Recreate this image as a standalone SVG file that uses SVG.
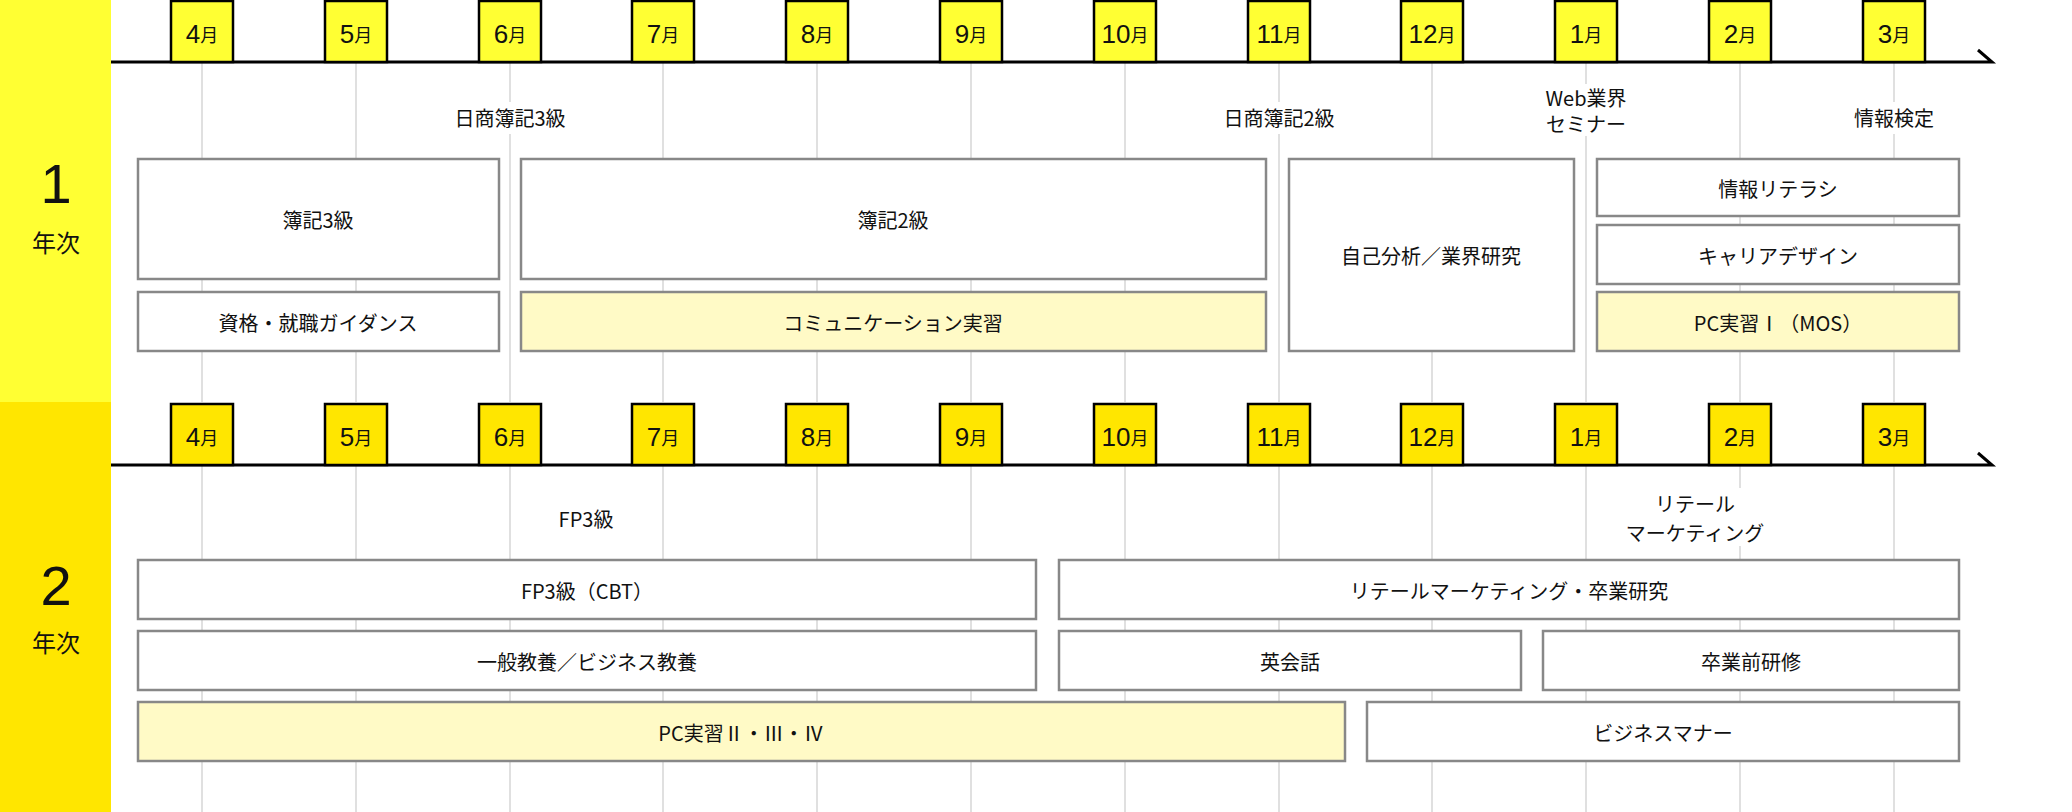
<svg xmlns="http://www.w3.org/2000/svg" width="2072" height="812" viewBox="0 0 2072 812">
<style>
text{font-family:"Noto Sans CJK JP","Liberation Sans",sans-serif;fill:#111;text-anchor:middle;dominant-baseline:central}
.box{fill:#fff;stroke:#888;stroke-width:2.5}
.hl{fill:#fffac6;stroke:#888;stroke-width:2.5}
.t{font-size:20px}
.mb1{fill:#ffff33;stroke:#000;stroke-width:2.5}
.mb2{fill:#ffe600;stroke:#000;stroke-width:2.5}
.m{font-size:26px;font-family:"Liberation Sans","Noto Sans CJK JP",sans-serif}
.m tspan{font-size:18px;font-family:"Noto Sans CJK JP",sans-serif}
.grid line{stroke:#ccc;stroke-width:1.2}
.axis{stroke:#000;stroke-width:3;fill:none}
.bg{fill:#fff}
.big{font-size:56px;font-family:"Liberation Sans",sans-serif}
</style>
<rect x="0" y="0" width="111" height="402" fill="#ffff33"/>
<rect x="0" y="402" width="111" height="410" fill="#ffe600"/>
<g id="year1-label"><text class="big" x="56" y="183">1</text><text x="56" y="241" font-size="24">年次</text></g>
<g id="year2-label"><text class="big" x="56" y="585" font-size="62">2</text><text x="56" y="641" font-size="24">年次</text></g>
<g class="grid">
<line x1="202" y1="62" x2="202" y2="402"/><line x1="356" y1="62" x2="356" y2="402"/><line x1="510" y1="62" x2="510" y2="402"/><line x1="663" y1="62" x2="663" y2="402"/><line x1="817" y1="62" x2="817" y2="402"/><line x1="971" y1="62" x2="971" y2="402"/><line x1="1125" y1="62" x2="1125" y2="402"/><line x1="1279" y1="62" x2="1279" y2="402"/><line x1="1432" y1="62" x2="1432" y2="402"/><line x1="1586" y1="62" x2="1586" y2="402"/><line x1="1740" y1="62" x2="1740" y2="402"/><line x1="1894" y1="62" x2="1894" y2="402"/>
<line x1="202" y1="465" x2="202" y2="812"/><line x1="356" y1="465" x2="356" y2="812"/><line x1="510" y1="465" x2="510" y2="812"/><line x1="663" y1="465" x2="663" y2="812"/><line x1="817" y1="465" x2="817" y2="812"/><line x1="971" y1="465" x2="971" y2="812"/><line x1="1125" y1="465" x2="1125" y2="812"/><line x1="1279" y1="465" x2="1279" y2="812"/><line x1="1432" y1="465" x2="1432" y2="812"/><line x1="1586" y1="465" x2="1586" y2="812"/><line x1="1740" y1="465" x2="1740" y2="812"/><line x1="1894" y1="465" x2="1894" y2="812"/>
</g>
<g id="axes">
<path class="axis" d="M111 62H1992L1978 50"/>
<path class="axis" d="M111 465H1992L1978 453"/>
</g>
<g id="months1">
<rect class="mb1" x="171" y="1" width="62" height="61"/><text class="m" x="202" y="34">4<tspan>月</tspan></text>
<rect class="mb1" x="325" y="1" width="62" height="61"/><text class="m" x="356" y="34">5<tspan>月</tspan></text>
<rect class="mb1" x="479" y="1" width="62" height="61"/><text class="m" x="510" y="34">6<tspan>月</tspan></text>
<rect class="mb1" x="632" y="1" width="62" height="61"/><text class="m" x="663" y="34">7<tspan>月</tspan></text>
<rect class="mb1" x="786" y="1" width="62" height="61"/><text class="m" x="817" y="34">8<tspan>月</tspan></text>
<rect class="mb1" x="940" y="1" width="62" height="61"/><text class="m" x="971" y="34">9<tspan>月</tspan></text>
<rect class="mb1" x="1094" y="1" width="62" height="61"/><text class="m" x="1125" y="34">10<tspan>月</tspan></text>
<rect class="mb1" x="1248" y="1" width="62" height="61"/><text class="m" x="1279" y="34">11<tspan>月</tspan></text>
<rect class="mb1" x="1401" y="1" width="62" height="61"/><text class="m" x="1432" y="34">12<tspan>月</tspan></text>
<rect class="mb1" x="1555" y="1" width="62" height="61"/><text class="m" x="1586" y="34">1<tspan>月</tspan></text>
<rect class="mb1" x="1709" y="1" width="62" height="61"/><text class="m" x="1740" y="34">2<tspan>月</tspan></text>
<rect class="mb1" x="1863" y="1" width="62" height="61"/><text class="m" x="1894" y="34">3<tspan>月</tspan></text>
</g>
<g id="months2">
<rect class="mb2" x="171" y="404" width="62" height="61"/><text class="m" x="202" y="437">4<tspan>月</tspan></text>
<rect class="mb2" x="325" y="404" width="62" height="61"/><text class="m" x="356" y="437">5<tspan>月</tspan></text>
<rect class="mb2" x="479" y="404" width="62" height="61"/><text class="m" x="510" y="437">6<tspan>月</tspan></text>
<rect class="mb2" x="632" y="404" width="62" height="61"/><text class="m" x="663" y="437">7<tspan>月</tspan></text>
<rect class="mb2" x="786" y="404" width="62" height="61"/><text class="m" x="817" y="437">8<tspan>月</tspan></text>
<rect class="mb2" x="940" y="404" width="62" height="61"/><text class="m" x="971" y="437">9<tspan>月</tspan></text>
<rect class="mb2" x="1094" y="404" width="62" height="61"/><text class="m" x="1125" y="437">10<tspan>月</tspan></text>
<rect class="mb2" x="1248" y="404" width="62" height="61"/><text class="m" x="1279" y="437">11<tspan>月</tspan></text>
<rect class="mb2" x="1401" y="404" width="62" height="61"/><text class="m" x="1432" y="437">12<tspan>月</tspan></text>
<rect class="mb2" x="1555" y="404" width="62" height="61"/><text class="m" x="1586" y="437">1<tspan>月</tspan></text>
<rect class="mb2" x="1709" y="404" width="62" height="61"/><text class="m" x="1740" y="437">2<tspan>月</tspan></text>
<rect class="mb2" x="1863" y="404" width="62" height="61"/><text class="m" x="1894" y="437">3<tspan>月</tspan></text>
</g>
<g id="exams">
<rect class="bg" x="440" y="102" width="140" height="32"/><text class="t" x="510" y="117">日商簿記3級</text>
<rect class="bg" x="1209" y="102" width="140" height="32"/><text class="t" x="1279" y="117">日商簿記2級</text>
<rect class="bg" x="1536" y="84" width="100" height="52"/><text class="t" x="1586" y="97">Web業界</text><text class="t" x="1586" y="123">セミナー</text>
<rect class="bg" x="1848" y="102" width="92" height="32"/><text class="t" x="1894" y="117">情報検定</text>
<rect class="bg" x="546" y="503" width="80" height="30"/><text class="t" x="586" y="518">FP3級</text>
<rect class="bg" x="1626" y="488" width="138" height="58"/><text class="t" x="1695" y="503">リテール</text><text class="t" x="1695" y="532">マーケティング</text>
</g>
<g id="n-boki3"><rect class="box" x="138" y="159" width="361" height="120"/><text class="t" x="318" y="219">簿記3級</text></g>
<g id="n-guidance"><rect class="box" x="138" y="292" width="361" height="59"/><text class="t" x="318" y="322">資格・就職ガイダンス</text></g>
<g id="n-boki2"><rect class="box" x="521" y="159" width="745" height="120"/><text class="t" x="893" y="219">簿記2級</text></g>
<g id="n-comm"><rect class="hl" x="521" y="292" width="745" height="59"/><text class="t" x="893" y="322">コミュニケーション実習</text></g>
<g id="n-jiko"><rect class="box" x="1289" y="159" width="285" height="192"/><text class="t" x="1431" y="255">自己分析／業界研究</text></g>
<g id="n-joho"><rect class="box" x="1597" y="159" width="362" height="57"/><text class="t" x="1778" y="188">情報リテラシ</text></g>
<g id="n-career"><rect class="box" x="1597" y="225" width="362" height="59"/><text class="t" x="1778" y="255">キャリアデザイン</text></g>
<g id="n-pc1"><rect class="hl" x="1597" y="292" width="362" height="59"/><text class="t" x="1778" y="322">PC実習Ⅰ（MOS）</text></g>
<g id="n-fp3"><rect class="box" x="138" y="560" width="898" height="59"/><text class="t" x="587" y="590">FP3級（CBT）</text></g>
<g id="n-kyoyo"><rect class="box" x="138" y="631" width="898" height="59"/><text class="t" x="587" y="661">一般教養／ビジネス教養</text></g>
<g id="n-pc2"><rect class="hl" x="138" y="702" width="1207" height="59"/><text class="t" x="741" y="732">PC実習Ⅱ・Ⅲ・Ⅳ</text></g>
<g id="n-retail"><rect class="box" x="1059" y="560" width="900" height="59"/><text class="t" x="1509" y="590">リテールマーケティング・卒業研究</text></g>
<g id="n-eikaiwa"><rect class="box" x="1059" y="631" width="462" height="59"/><text class="t" x="1290" y="661">英会話</text></g>
<g id="n-sotsugyo"><rect class="box" x="1543" y="631" width="416" height="59"/><text class="t" x="1751" y="661">卒業前研修</text></g>
<g id="n-manner"><rect class="box" x="1367" y="702" width="592" height="59"/><text class="t" x="1663" y="732">ビジネスマナー</text></g>
</svg>
